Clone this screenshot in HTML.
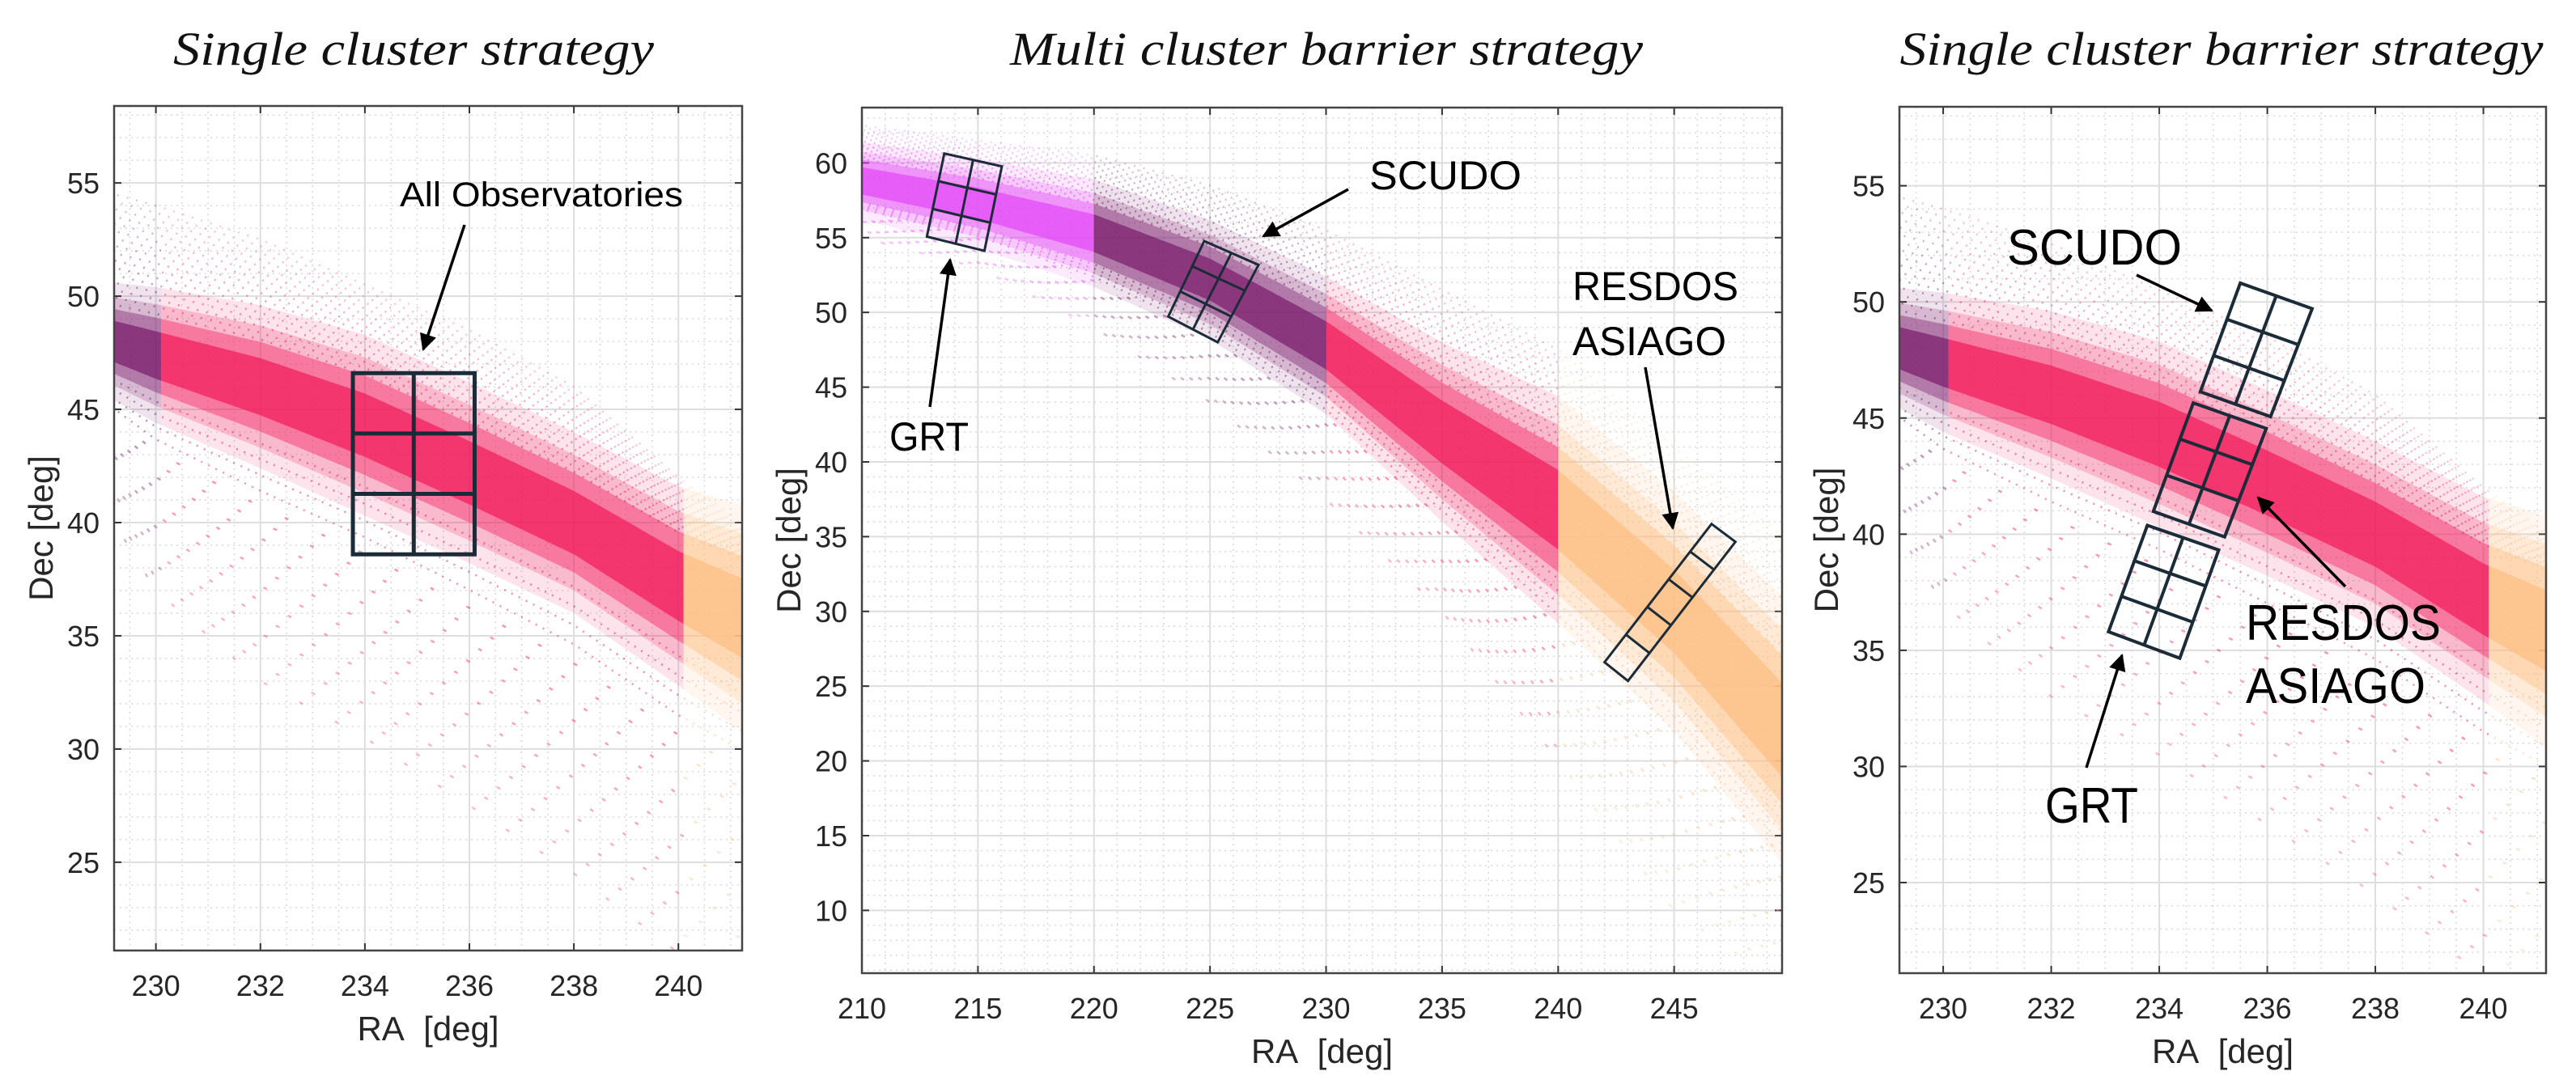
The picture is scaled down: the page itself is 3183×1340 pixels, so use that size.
<!DOCTYPE html>
<html><head><meta charset="utf-8"><title>Cluster strategies</title>
<style>
html,body{margin:0;padding:0;background:#fff;}
svg{display:block;}
.tick{font-family:"Liberation Sans",sans-serif;font-size:36px;fill:#262626;}
.axt{font-family:"Liberation Sans",sans-serif;font-size:42px;fill:#262626;white-space:pre;}
.ttl{font-family:"Liberation Serif",serif;font-style:italic;font-size:58px;fill:#111;}
.lbl{font-family:"Liberation Sans",sans-serif;fill:#000;}
</style></head>
<body>
<svg id="fig" width="3183" height="1340" viewBox="0 0 3183 1340" xmlns="http://www.w3.org/2000/svg">
<defs>
<marker id="ah" viewBox="0 0 10 10" refX="9" refY="5" markerWidth="6" markerHeight="6" orient="auto-start-reverse"><path d="M0,0 L10,5 L0,10 z" fill="#000"/></marker>
</defs>
<text class="ttl" x="511" y="80" text-anchor="middle" textLength="594" lengthAdjust="spacingAndGlyphs">Single cluster strategy</text>
<text class="ttl" x="1639" y="80" text-anchor="middle" textLength="782" lengthAdjust="spacingAndGlyphs">Multi cluster barrier strategy</text>
<text class="ttl" x="2745" y="80" text-anchor="middle" textLength="795" lengthAdjust="spacingAndGlyphs">Single cluster barrier strategy</text>
</svg>
<script>
// ---- data: zoomed panels (1 & 3) ----
const raKnotsZoom   = [229.2, 230, 232, 234, 236, 238, 240, 241.2];
const decCenterZoom = [48.0, 47.4, 46.0, 44.3, 42.2, 40.0, 37.2, 35.8];
const coreHalfZoom  = [1.3, 1.5, 1.8, 2.0, 2.0, 2.0, 2.2, 2.5];
const decUpperZoom  = [54.5, 54.0, 52.5, 50.5, 48.5, 46.0, 42.0, 40.0];
const decLowerZoom  = [40.0, 37.0, 33.0, 30.5, 27.5, 24.5, 21.0, 20.0];
const segBreaksZoom = [229.0, 230.1, 240.1, 242.0];
// ---- data: wide panel (2) ----
const raKnotsWide   = [210, 215, 220, 225, 230, 235, 240, 245, 249.7];
const decCenterWide = [58.8, 57.3, 55.3, 52.2, 47.8, 42.0, 36.8, 30.0, 22.0];
const coreHalfWide  = [1.3, 1.5, 1.8, 2.0, 2.3, 3.0, 3.8, 4.0, 4.5];
const decUpperWide  = [62.5, 61.5, 60.5, 58.5, 55.5, 51.5, 47.5, 41.0, 35.0];
const decLowerWide  = [55.0, 53.0, 49.0, 44.0, 37.5, 30.0, 20.0, 10.0, 5.0];
const segBreaksWide = [209.0, 220.0, 230.0, 240.0, 251.0];
// ---- tick labels ----
const xTicksZoom = [230, 232, 234, 236, 238, 240];
const yTicksZoom = [25, 30, 35, 40, 45, 50, 55];
const xTicksWide = [210, 215, 220, 225, 230, 235, 240, 245];
const yTicksWide = [10, 15, 20, 25, 30, 35, 40, 45, 50, 55, 60];
// ---- annotation boxes (data coords: TL, TR, BR, BL) ----
const boxAllObs   = [[233.77,46.6],[236.1,46.6],[236.1,38.6],[233.77,38.6]];
const boxGrtWide  = [[213.55,60.63],[216.03,59.77],[215.28,54.12],[212.80,55.07]];
const boxScudoWide= [[224.75,54.77],[227.09,53.18],[225.33,48.0],[223.20,49.72]];
const boxResdosWide=[[246.61,35.85],[247.64,34.65],[243.01,25.35],[242.0,26.6]];
const boxScudoZ   = [[235.50,50.81],[236.83,49.71],[236.06,45.06],[234.76,46.13]];
const boxResdosZ  = [[234.63,45.65],[235.98,44.55],[235.21,39.88],[233.89,40.98]];
const boxGrtZ     = [[233.78,40.38],[235.10,39.32],[234.38,34.66],[233.06,35.80]];

const NS = "http://www.w3.org/2000/svg";
const svg = document.getElementById('fig');
function mk(tag, attrs, parent){const e=document.createElementNS(NS,tag);for(const k in attrs)e.setAttribute(k,attrs[k]);(parent||svg).appendChild(e);return e;}

const segColorsZoom = ['#7a1b6b','#f21a5b','#fdbf86'];
const segColorsWide = ['#e446f6','#7a1b6b','#f21a5b','#fdbf86'];

const panels = [
 {id:'p1', L:141, T:131, R:917, B:1175, x0:229.2, x1:241.22, y0:21.1, y1:58.4, xt:xTicksZoom, yt:yTicksZoom, xm:0.5, ym:1},
 {id:'p2', L:1065, T:133, R:2202, B:1203, x0:210, x1:249.65, y0:5.8, y1:63.7, xt:xTicksWide, yt:yTicksWide, xm:1, ym:1},
 {id:'p3', L:2347, T:132, R:3146, B:1203, x0:229.19, x1:241.16, y0:21.1, y1:58.4, xt:xTicksZoom, yt:yTicksZoom, xm:0.5, ym:1}
];
panels.forEach(p=>{
  p.sx = v => p.L + (v-p.x0)/(p.x1-p.x0)*(p.R-p.L);
  p.sy = v => p.B - (v-p.y0)/(p.y1-p.y0)*(p.B-p.T);
});

function interp(xs, ys, x){
  if(x<=xs[0]) return ys[0];
  for(let i=1;i<xs.length;i++){ if(x<=xs[i]){const t=(x-xs[i-1])/(xs[i]-xs[i-1]);return ys[i-1]+t*(ys[i]-ys[i-1]);} }
  return ys[ys.length-1];
}

function drawAxes(p){
  const g = mk('g',{});
  
  
  for(let v=Math.ceil(p.x0/p.xm)*p.xm; v<=p.x1; v+=p.xm){
    const x=p.sx(v);
    const l=mk('line',{x1:x,x2:x,y1:p.T,y2:p.B,stroke:'#d9d9d9','stroke-width':1.5,'stroke-dasharray':'2 5'},g);
    
    
  }
  for(let v=Math.ceil(p.y0/p.ym)*p.ym; v<=p.y1; v+=p.ym){
    const y=p.sy(v);
    const l=mk('line',{x1:p.L,x2:p.R,y1:y,y2:y,stroke:'#d9d9d9','stroke-width':1.5,'stroke-dasharray':'2 5'},g);
    
    
  }
  p.xt.forEach(v=>{
    const x=p.sx(v);
    const l=mk('line',{x1:x,x2:x,y1:p.T,y2:p.B,stroke:'#dedede','stroke-width':2},g);
    
    
    const t=mk('text',{x:x,y:p.B+56,'text-anchor':'middle',class:'tick'},g);
    t.textContent=v;
    
    
    mk('line',{x1:x,x2:x,y1:p.B,y2:p.B-9,stroke:'#333','stroke-width':2},g);
    mk('line',{x1:x,x2:x,y1:p.T,y2:p.T+9,stroke:'#333','stroke-width':2},g);
  });
  p.yt.forEach(v=>{
    const y=p.sy(v);
    const l=mk('line',{x1:p.L,x2:p.R,y1:y,y2:y,stroke:'#dedede','stroke-width':2},g);
    
    
    const t=mk('text',{x:p.L-18,y:y+13,'text-anchor':'end',class:'tick'},g);
    t.textContent=v;
    
    
    mk('line',{x1:p.L,x2:p.L+9,y1:y,y2:y,stroke:'#333','stroke-width':2},g);
    mk('line',{x1:p.R,x2:p.R-9,y1:y,y2:y,stroke:'#333','stroke-width':2},g);
  });
  const xt=mk('text',{x:(p.L+p.R)/2,y:p.B+111,'text-anchor':'middle',class:'axt'},g);
  xt.textContent='RA\u00a0\u00a0[deg]';
  
  
  const cy=(p.T+p.B)/2, cx=p.L-90;
  const yt=mk('text',{x:cx,y:cy,'text-anchor':'middle',class:'axt',transform:`rotate(-90 ${cx} ${cy})`,dy:'14'},g);
  yt.textContent='Dec [deg]';
  
  
}

function drawFrame(p){
  const r=mk('rect',{x:p.L,y:p.T,width:p.R-p.L,height:p.B-p.T,fill:'none',stroke:'#444','stroke-width':2.5});
  
  
}

function drawBand(p, ra, cen, core, up, lo, breaks, colors){
  const defs=svg.querySelector('defs');
  const cp=mk('clipPath',{id:p.id+'-clip'},defs);
  mk('rect',{x:p.L,y:p.T,width:p.R-p.L,height:p.B-p.T},cp);
  const outer=mk('g',{'clip-path':`url(#${p.id}-clip)`});
  
  
  const step=(ra[ra.length-1]-ra[0])/200;
  const sample=f=>{const pts=[];for(let r=ra[0];r<=ra[ra.length-1]+1e-9;r+=step)pts.push(p.sx(r).toFixed(1)+','+p.sy(f(r)).toFixed(1));return pts;};
  for(let s=0;s<colors.length;s++){
    const id=p.id+'-seg'+s;
    const c=mk('clipPath',{id:id},defs);
    const xa=p.sx(breaks[s]), xb=p.sx(breaks[s+1]);
    mk('rect',{x:xa,y:p.T-50,width:xb-xa,height:p.B-p.T+100},c);
    const g=mk('g',{'clip-path':`url(#${id})`},outer);
    
    
    const col=colors[s];
    const NT=16;
    for(let k=1;k<=NT;k++){
      const t=k/NT;
      const pu=mk('polyline',{points:sample(r=>{const c0=interp(ra,cen,r),h=interp(ra,core,r);return c0+h+t*(interp(ra,up,r)-c0-h);}).join(' '),fill:'none',stroke:col,'stroke-width':2.5,'stroke-dasharray':'2 10','stroke-dashoffset':k*5,opacity:0.55-0.3*t},g);
      
      
      const pl=mk('polyline',{points:sample(r=>{const c0=interp(ra,cen,r),h=interp(ra,core,r);return c0-h-t*(c0-h-interp(ra,lo,r));}).join(' '),fill:'none',stroke:col,'stroke-width':2.5,'stroke-dasharray':(t<0.3?'2 8':'5 45'),'stroke-dashoffset':k*11,opacity:0.55-0.25*t},g);
      
      
    }
    [[2.0,0.12],[1.5,0.2],[1.1,0.4],[0.7,0.7]].forEach(([m,o])=>{
      const pts=sample(r=>interp(ra,cen,r)+m*interp(ra,core,r)).concat(sample(r=>interp(ra,cen,r)-m*interp(ra,core,r)).reverse());
      const pc=mk('polygon',{points:pts.join(' '),fill:col,opacity:(col==='#fdbf86'?Math.min(1,o*1.1):o)},g);
      
      
    });
  }
}

function drawBox(p, corners, cols, rows, sw, name){
  const P=corners.map(c=>[p.sx(c[0]),p.sy(c[1])]);
  const lerp=(a,b,t)=>[a[0]+(b[0]-a[0])*t,a[1]+(b[1]-a[1])*t];
  const g=mk('g',{fill:'none',stroke:'#1b2b38','stroke-width':sw,'stroke-linejoin':'miter'});
  
  
  mk('polygon',{points:P.map(q=>q.join(',')).join(' ')},g);
  for(let i=1;i<cols;i++){const a=lerp(P[0],P[1],i/cols),b=lerp(P[3],P[2],i/cols);mk('line',{x1:a[0],y1:a[1],x2:b[0],y2:b[1]},g);}
  for(let j=1;j<rows;j++){const a=lerp(P[0],P[3],j/rows),b=lerp(P[1],P[2],j/rows);mk('line',{x1:a[0],y1:a[1],x2:b[0],y2:b[1]},g);}
}

function label(txt,x,y,size,len,name){
  const t=mk('text',{x:x,y:y,class:'lbl','font-size':size,textLength:len,lengthAdjust:'spacingAndGlyphs'});
  t.textContent=txt;
  
  
}
function arrow(x1,y1,x2,y2,name){
  const l=mk('line',{x1:x1,y1:y1,x2:x2,y2:y2,stroke:'#000','stroke-width':3.5,'marker-end':'url(#ah)'});
  
  
}

const [p1,p2,p3]=panels;
panels.forEach(drawAxes);
drawBand(p1, raKnotsZoom, decCenterZoom, coreHalfZoom, decUpperZoom, decLowerZoom, segBreaksZoom, segColorsZoom);
drawBand(p2, raKnotsWide, decCenterWide, coreHalfWide, decUpperWide, decLowerWide, segBreaksWide, segColorsWide);
drawBand(p3, raKnotsZoom, decCenterZoom, coreHalfZoom, decUpperZoom, decLowerZoom, segBreaksZoom, segColorsZoom);
panels.forEach(drawFrame);

drawBox(p1, boxAllObs, 2, 3, 5, 'all-observatories-box');
drawBox(p2, boxGrtWide, 2, 3, 3, 'grt-box');
drawBox(p2, boxScudoWide, 2, 3, 3, 'scudo-box');
drawBox(p2, boxResdosWide, 1, 5, 3, 'resdos-asiago-box');
drawBox(p3, boxScudoZ, 2, 3, 4, 'scudo-box-single');
drawBox(p3, boxResdosZ, 2, 3, 4, 'resdos-asiago-box-single');
drawBox(p3, boxGrtZ, 2, 3, 4, 'grt-box-single');

label('All Observatories',494,255,43,350,'all-observatories-label');
arrow(574,278,523,432,'all-observatories-arrow');
label('SCUDO',1692,234,50,188,'scudo-label');
arrow(1666,234,1561,292,'scudo-arrow');
label('GRT',1099,557,50,98,'grt-label');
arrow(1149,503,1174,321,'grt-arrow');
label('RESDOS',1943,371,50,205,'resdos-label');
label('ASIAGO',1943,439,50,190,'asiago-label');
arrow(2033,454,2067,653,'resdos-asiago-arrow');
label('SCUDO',2480,327,62,216,'scudo-label-single');
arrow(2640,340,2733,384,'scudo-arrow-single');
label('RESDOS',2775,791,62,241,'resdos-label-single');
label('ASIAGO',2775,869,62,222,'asiago-label-single');
arrow(2898,725,2790,615,'resdos-asiago-arrow-single');
label('GRT',2527,1017,62,115,'grt-label-single');
arrow(2578,949,2622,810,'grt-arrow-single');
</script>
</body></html>
